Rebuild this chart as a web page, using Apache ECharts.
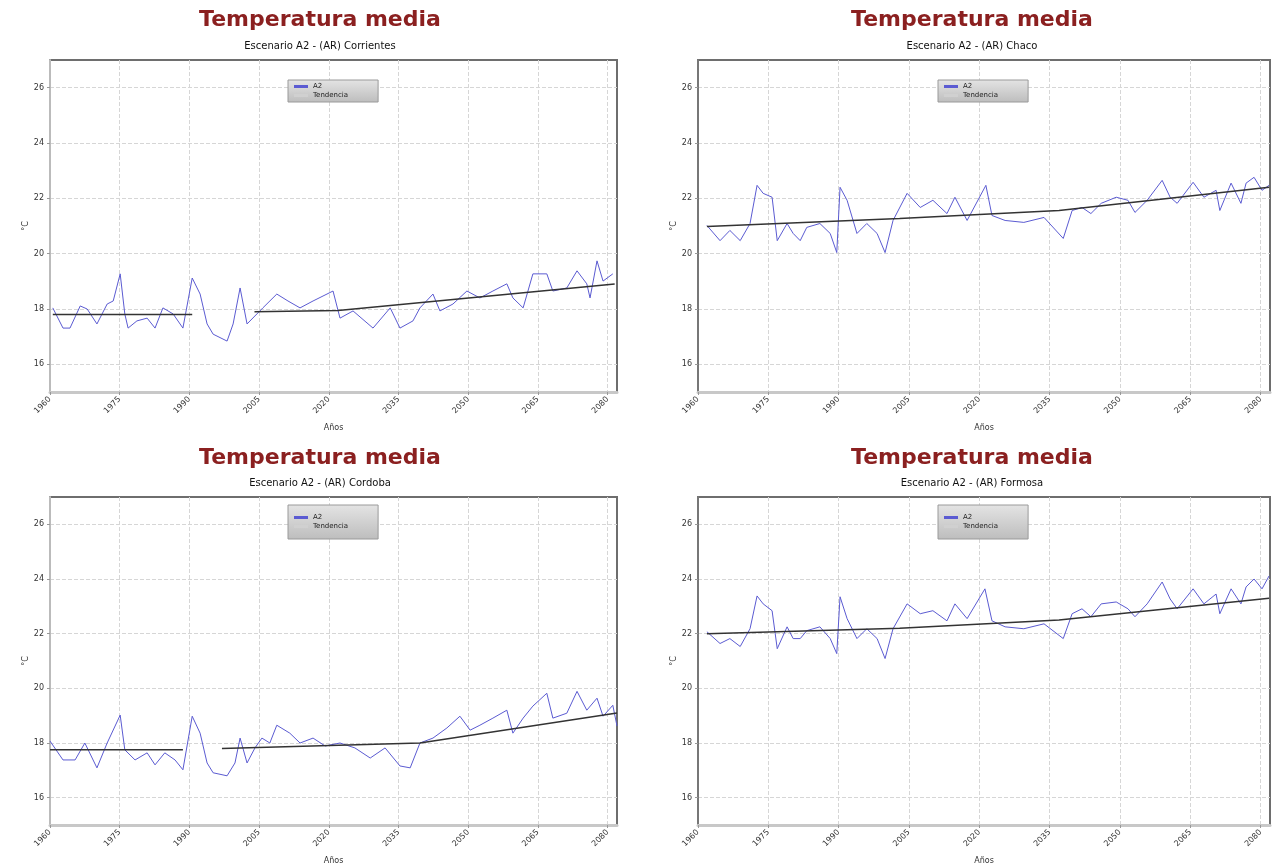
<!DOCTYPE html>
<html><head><meta charset="utf-8">
<script src="https://cdn.jsdelivr.net/npm/echarts@6/dist/echarts.min.js"></script>
<style>html,body{margin:0;padding:0;background:#fff}#c{width:1279px;height:866px}</style>
</head><body><div id="c"></div>
<script>
const mainTitle = 'Temperatura media';
const stations = ['Corrientes', 'Chaco', 'Cordoba', 'Formosa'];
const seriesNames = ['A2', 'Tendencia'];
const xTicks = [1960, 1975, 1990, 2005, 2020, 2035, 2050, 2065, 2080];
const yTicks = [16, 18, 20, 22, 24, 26];

// Top-left
const tlYears = [1960.6,1962.8,1964.3,1966.5,1968.0,1970.1,1972.3,1973.6,1975.1,1976.1,1976.8,1978.7,1980.9,1982.6,1984.3,1986.5,1988.6,1990.6,1992.3,1993.8,1995.1,1998.1,1999.4,2000.9,2002.4,2005.8,2008.8,2011.2,2013.8,2016.6,2020.9,2022.4,2025.2,2029.5,2033.2,2035.3,2038.1,2039.6,2042.4,2043.9,2046.7,2049.7,2052.5,2055.3,2058.3,2059.6,2061.8,2063.9,2066.9,2068.2,2071.2,2073.4,2075.5,2076.2,2077.7,2079.0,2081.1];
const tlTemp = [18.04,17.31,17.31,18.11,18.0,17.46,18.18,18.29,19.27,17.82,17.31,17.57,17.67,17.31,18.04,17.82,17.31,19.12,18.54,17.46,17.09,16.84,17.46,18.76,17.46,18.04,18.54,18.29,18.04,18.29,18.65,17.67,17.93,17.31,18.04,17.31,17.57,18.04,18.54,17.93,18.18,18.65,18.40,18.65,18.91,18.40,18.04,19.27,19.27,18.65,18.76,19.38,18.91,18.40,19.74,19.01,19.27];
const tlTrendYears = [1960.6, 1990.6, 1997, 2004, 2022, 2081.5];
const tlTrendTemp = [17.8, 17.8, null, 17.9, 17.95, 18.9];

// Top-right
const trYears = [1961.9,1964.7,1966.8,1969.0,1971.1,1972.6,1973.9,1975.8,1976.9,1979.0,1980.3,1981.8,1983.2,1986.0,1988.2,1989.6,1990.3,1991.8,1993.9,1996.0,1998.2,1999.9,2001.6,2004.6,2007.4,2010.1,2013.1,2014.8,2017.4,2021.4,2022.7,2025.5,2029.5,2033.8,2037.9,2039.8,2041.9,2043.8,2046.0,2049.2,2051.7,2053.2,2055.8,2059.0,2060.7,2062.2,2065.6,2067.9,2070.5,2071.3,2073.7,2075.8,2076.9,2078.6,2080.3,2081.8];
const trTemp = [21.02,20.47,20.84,20.47,21.09,22.47,22.18,22.04,20.47,21.09,20.73,20.47,20.95,21.09,20.73,20.04,22.40,21.93,20.73,21.09,20.73,20.04,21.20,22.18,21.67,21.93,21.45,22.04,21.20,22.47,21.38,21.20,21.13,21.31,20.55,21.56,21.67,21.45,21.82,22.04,21.93,21.49,21.93,22.65,22.04,21.82,22.58,22.04,22.29,21.56,22.55,21.82,22.55,22.76,22.29,22.47];
const trTrendYears = [1961.9, 2003, 2037, 2081.8];
const trTrendTemp = [20.98, 21.27, 21.56, 22.4];

// Bottom-left
const blYears = [1960.0,1962.8,1965.4,1967.5,1970.1,1972.3,1975.1,1976.1,1978.3,1980.9,1982.6,1984.7,1986.9,1988.6,1990.6,1992.3,1993.8,1995.1,1998.1,1999.8,2000.9,2002.4,2004.1,2005.6,2007.3,2008.8,2011.6,2013.8,2016.6,2019.2,2022.4,2025.6,2028.9,2032.1,2035.3,2037.5,2039.6,2042.4,2045.4,2048.2,2050.4,2052.5,2055.3,2058.3,2059.6,2061.8,2063.9,2066.9,2068.2,2071.2,2073.4,2075.5,2077.7,2079.0,2081.1,2082.0];
const blTemp = [18.07,17.38,17.38,18.0,17.09,18.0,19.02,17.75,17.38,17.64,17.2,17.64,17.38,17.02,18.98,18.36,17.27,16.91,16.8,17.27,18.18,17.27,17.82,18.18,18.0,18.65,18.36,18.0,18.18,17.89,18.0,17.82,17.45,17.82,17.16,17.09,18.0,18.18,18.55,18.98,18.47,18.65,18.91,19.2,18.36,18.91,19.35,19.82,18.91,19.09,19.89,19.2,19.64,18.98,19.38,18.62];
const blTrendYears = [1960.0, 1988.6, 1993, 1997, 2039.6, 2082.0];
const blTrendTemp = [17.75, 17.75, null, 17.8, 18.0, 19.1];

// Bottom-right
const brYears = [1961.9,1964.7,1966.8,1969.0,1971.1,1972.6,1973.9,1975.8,1976.9,1979.0,1980.3,1981.8,1983.2,1986.0,1988.2,1989.6,1990.3,1991.8,1993.9,1996.0,1998.2,1999.9,2001.6,2004.6,2007.4,2010.1,2013.1,2014.8,2017.4,2021.2,2022.7,2025.5,2029.5,2033.8,2037.9,2039.8,2041.9,2043.8,2046.0,2049.2,2051.7,2053.2,2055.8,2059.0,2060.7,2062.2,2065.6,2067.9,2070.5,2071.3,2073.7,2075.8,2076.9,2078.6,2080.3,2081.8];
const brTemp = [22.07,21.64,21.82,21.53,22.18,23.38,23.09,22.84,21.45,22.25,21.82,21.82,22.11,22.25,21.82,21.27,23.35,22.55,21.82,22.18,21.82,21.09,22.18,23.09,22.73,22.84,22.47,23.09,22.55,23.64,22.47,22.25,22.18,22.36,21.82,22.73,22.91,22.62,23.09,23.16,22.91,22.62,23.09,23.89,23.27,22.91,23.64,23.09,23.45,22.73,23.64,23.09,23.71,24.0,23.64,24.11];
const brTrendYears = [1961.9, 2003, 2037, 2081.8];
const brTrendTemp = [22.0, 22.2, 22.5, 23.3];

const panels = [
  {g:{left:50, top:60, width:567, height:332}, cx:320, ty:20, sy:46, lg:{left:288, top:80, padding:[3,30,3,6]}, years:tlYears, temp:tlTemp, ty2:tlTrendYears, tt:tlTrendTemp, st:stations[0]},
  {g:{left:698, top:60, width:572, height:332}, cx:972, ty:20, sy:46, lg:{left:938, top:80, padding:[3,30,3,6]}, years:trYears, temp:trTemp, ty2:trTrendYears, tt:trTrendTemp, st:stations[1]},
  {g:{left:50, top:497, width:567, height:332}, cx:320, ty:458, sy:483, lg:{left:288, top:505, padding:[9,30,9,6]}, years:blYears, temp:blTemp, ty2:blTrendYears, tt:blTrendTemp, st:stations[2]},
  {g:{left:698, top:497, width:572, height:332}, cx:972, ty:458, sy:483, lg:{left:938, top:505, padding:[9,30,9,6]}, years:brYears, temp:brTemp, ty2:brTrendYears, tt:brTrendTemp, st:stations[3]}
];

const pair = (xs, ys) => xs.map((x, i) => [x, ys[i]]);
const A2C = '#5b5bd2', TRC = '#333333';

const option = {
  backgroundColor: '#fff',
  animation: false,
  graphic: [],
  grid: [], xAxis: [], yAxis: [], series: [], legend: []
};

panels.forEach((p, i) => {
  option.graphic.push(
    {type:'text', x:p.cx, y:p.ty, style:{text:mainTitle, fill:'#8b2020', font:'bold 22px "DejaVu Sans"', textAlign:'center', textVerticalAlign:'middle'}},
    {type:'text', x:p.cx, y:p.sy, style:{text:'Escenario A2 - (AR) ' + p.st, fill:'#111', font:'10px "DejaVu Sans"', textAlign:'center', textVerticalAlign:'middle'}}
  );
  option.grid.push(Object.assign({show:true, borderColor:'#6e6e6e', borderWidth:2, backgroundColor:'#fff'}, p.g));
  option.xAxis.push({
    type:'value', gridIndex:i, min:1960, max:2082,
    name:'Años', nameLocation:'middle', nameGap:32, nameTextStyle:{fontSize:8, color:'#333', fontFamily:'DejaVu Sans'},
    axisLine:{show:true, lineStyle:{color:'#c8c8c8', width:3}},
    axisTick:{show:true, customValues:xTicks, length:3, lineStyle:{color:'#999'}},
    axisLabel:{customValues:xTicks, rotate:45, fontSize:8, color:'#333', margin:6, fontFamily:'DejaVu Sans', formatter: v => String(v)},
    splitLine:{show:true, lineStyle:{color:'#d6d6d6', type:'dashed'}}
  });
  option.yAxis.push({
    type:'value', gridIndex:i, min:15, max:27,
    name:'°C', nameLocation:'middle', nameGap:16, nameRotate:90, nameTextStyle:{fontSize:8, color:'#333', fontFamily:'DejaVu Sans'},
    axisLine:{show:true, lineStyle:{color:i % 2 ? '#777' : '#bbb', width:2}},
    axisTick:{show:true, customValues:yTicks, length:3, lineStyle:{color:'#999'}},
    axisLabel:{customValues:yTicks, fontSize:8, color:'#333', margin:6, fontFamily:'DejaVu Sans'},
    splitLine:{show:true, lineStyle:{color:'#d6d6d6', type:'dashed'}}
  });
  option.series.push(
    {name:seriesNames[0], type:'line', xAxisIndex:i, yAxisIndex:i, data:pair(p.years, p.temp), showSymbol:false, lineStyle:{color:A2C, width:1}, itemStyle:{color:A2C}, z:3},
    {name:seriesNames[1], type:'line', xAxisIndex:i, yAxisIndex:i, data:pair(p.ty2, p.tt), showSymbol:false, connectNulls:false, lineStyle:{color:TRC, width:1.5}, itemStyle:{color:'#aaa'}, z:4}
  );
  option.legend.push({
    left:p.lg.left, top:p.lg.top, orient:'vertical', padding:p.lg.padding, itemGap:2,
    itemWidth:14, itemHeight:3, icon:'rect',
    backgroundColor: new echarts.graphic.LinearGradient(0,0,0,1,[{offset:0,color:'#e4e4e4'},{offset:1,color:'#bdbdbd'}]),
    borderColor:'#9a9a9a', borderWidth:1,
    textStyle:{fontSize:7, color:'#222', fontFamily:'DejaVu Sans'},
    data:[{name:seriesNames[0], itemStyle:{color:A2C}}, {name:seriesNames[1], itemStyle:{color:'#d0d0d0'}}]
  });
});

const chart = echarts.init(document.getElementById('c'), null, {renderer:'canvas'});
chart.setOption(option);
</script>
</body></html>
